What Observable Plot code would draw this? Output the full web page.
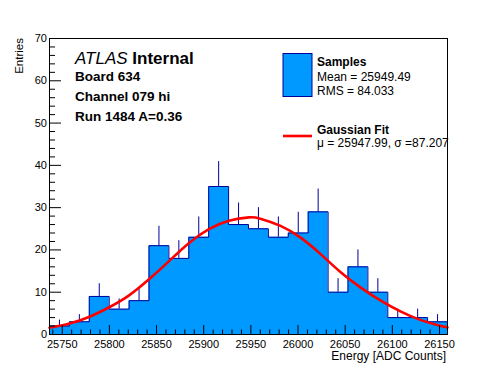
<!DOCTYPE html>
<html><head><meta charset="utf-8">
<script src="https://cdn.jsdelivr.net/npm/d3@7"></script>
<script src="https://cdn.jsdelivr.net/npm/@observablehq/plot@0.6"></script>
<style>body{margin:0;background:#fff} svg{display:block}</style>
</head><body><div id="chart"></div>
<script>
// Histogram: entries per bin (20 bins over the range)
const counts = [2, 3, 9, 6, 8, 21, 18, 23, 35, 26, 25, 23, 24, 29, 10, 16, 10, 4, 4, 3];
// Upward error bar lengths per bin
const errors = [1.4, 1.7, 3.0, 2.4, 2.8, 4.6, 4.2, 4.8, 5.9, 5.1, 5.0, 4.8, 4.9, 5.4, 3.2, 4.0, 3.2, 2.0, 2.0, 1.7];
const histRange = [25736.5, 26158.5];
// Gaussian fit curve
const fitX = [25736.5, 25757.8, 25779.0, 25800.3, 25820.5, 25841.7, 25863.0, 25884.2, 25905.5, 25926.7, 25948.0, 25960.1, 25981.5, 26002.8, 26024.0, 26045.3, 26066.5, 26087.8, 26109.1, 26130.3, 26151.6, 26158.5];
const fitY = [1.6, 2.6, 4.2, 6.5, 9.2, 13.0, 17.3, 21.6, 24.9, 26.9, 27.7, 27.4, 25.7, 22.9, 19.0, 14.7, 11.1, 8.0, 5.4, 3.4, 2.0, 1.7];
const xTickValues = [25750, 25800, 25850, 25900, 25950, 26000, 26050, 26100, 26150];
const yTickValues = [0, 10, 20, 30, 40, 50, 60, 70];
const yDomain = [0, 70];
const titleLines = ["Board 634", "Channel 079 hi", "Run 1484 A=0.36"];
const legendSamples = ["Samples", "Mean = 25949.49", "RMS = 84.033"];
const legendFit = ["Gaussian Fit", "\u03bc = 25947.99, \u03c3 =87.207"];
const xLabel = "Energy [ADC Counts]";
const yLabel = "Entries";

const FILL = "#0099ff", LINE = "#000099";
const W = 496, H = 372, ML = 49, MR = 49, MT = 38, MB = 38;
const FW = W - ML - MR, FH = H - MT - MB;

const n = counts.length;
const bw = (histRange[1] - histRange[0]) / n;
const bins = counts.map((c, i) => ({
  x1: histRange[0] + i * bw,
  xc: histRange[0] + (i + 0.5) * bw,
  y: c,
  e: errors[i]
}));
const stepPts = bins.map(b => ({x: b.x1, y: b.y})).concat([{x: histRange[1], y: counts[n - 1]}]);
const fit = fitX.map((x, i) => ({x, y: fitY[i]}));
const xMinor = d3.range(25740, histRange[1], 10).filter(v => v % 50 !== 0);
const yMinor = d3.range(0, 70, 2).filter(v => v % 10 !== 0);

const svg = Plot.plot({
  width: W, height: H,
  marginLeft: ML, marginRight: MR, marginTop: MT, marginBottom: MB,
  style: {fontFamily: "'Liberation Sans', Arial, sans-serif", fontSize: "11px", background: "white", color: "black"},
  x: {domain: histRange},
  y: {domain: yDomain},
  marks: [
    Plot.areaY(stepPts, {x: "x", y1: 0, y2: "y", curve: "step-after", fill: FILL}),
    Plot.line(stepPts, {x: "x", y: "y", curve: "step-after", stroke: LINE, strokeWidth: 1}),
    Plot.ruleX(bins, {x: "xc", y1: "y", y2: d => d.y + d.e, stroke: LINE, strokeWidth: 1}),
    Plot.line(fit, {x: "x", y: "y", curve: "natural", stroke: "#ff0000", strokeWidth: 2.6}),
    Plot.ruleX(xTickValues, {x: d => d, insetTop: FH - 9, stroke: "black"}),
    Plot.ruleX(xMinor, {x: d => d, insetTop: FH - 4.5, stroke: "black"}),
    Plot.ruleY(yTickValues, {y: d => d, insetRight: FW - 12, stroke: "black"}),
    Plot.ruleY(yMinor, {y: d => d, insetRight: FW - 6, stroke: "black"}),
    Plot.frame({stroke: "black"}),
    Plot.axisX({ticks: xTickValues, tickSize: 0, tickPadding: 5.5, tickFormat: d => String(d), label: null, fontSize: 11}),
    Plot.axisY({ticks: yTickValues, tickSize: 0, tickPadding: 2.5, tickFormat: d => String(d), label: null, fontSize: 11})
  ]
});
document.getElementById("chart").appendChild(svg);

const s = d3.select(svg);
const FF = "'Liberation Sans', Arial, sans-serif";
function txt(x, y, str, opts = {}) {
  const t = s.append("text").attr("x", x).attr("y", y).attr("font-family", FF)
    .attr("font-size", opts.size || 12).attr("fill", "black")
    .attr("text-anchor", opts.anchor || "start");
  if (opts.weight) t.attr("font-weight", opts.weight);
  if (opts.transform) t.attr("transform", opts.transform);
  t.text(str);
  return t;
}
// axis titles
txt(0, 0, yLabel, {size: 11.5, anchor: "end", transform: "translate(22.5,38) rotate(-90)"});
txt(446, 360, xLabel, {size: 12, anchor: "end"});

// ATLAS label
const at = s.append("text").attr("x", 75).attr("y", 63.5).attr("font-family", FF)
  .attr("font-size", 17).attr("fill", "black").attr("text-anchor", "start");
at.append("tspan").attr("font-style", "italic").text("ATLAS");
at.append("tspan").attr("font-weight", "bold").text(" Internal");
titleLines.forEach((l, i) => txt(75, 81 + i * 20, l, {size: 13.5, weight: "bold"}));

// legend
s.append("rect").attr("x", 283).attr("y", 53.5).attr("width", 29).attr("height", 43)
  .attr("fill", FILL).attr("stroke", LINE).attr("stroke-width", 1);
txt(317, 65.5, legendSamples[0], {size: 12, weight: "bold"});
txt(317, 80.5, legendSamples[1], {size: 12});
txt(317, 94.5, legendSamples[2], {size: 12});
s.append("line").attr("x1", 283).attr("x2", 312).attr("y1", 136).attr("y2", 136)
  .attr("stroke", "#ff0000").attr("stroke-width", 2.6);
txt(317, 133.5, legendFit[0], {size: 12, weight: "bold"});
txt(317, 146.5, legendFit[1], {size: 12});
</script>
</body></html>
